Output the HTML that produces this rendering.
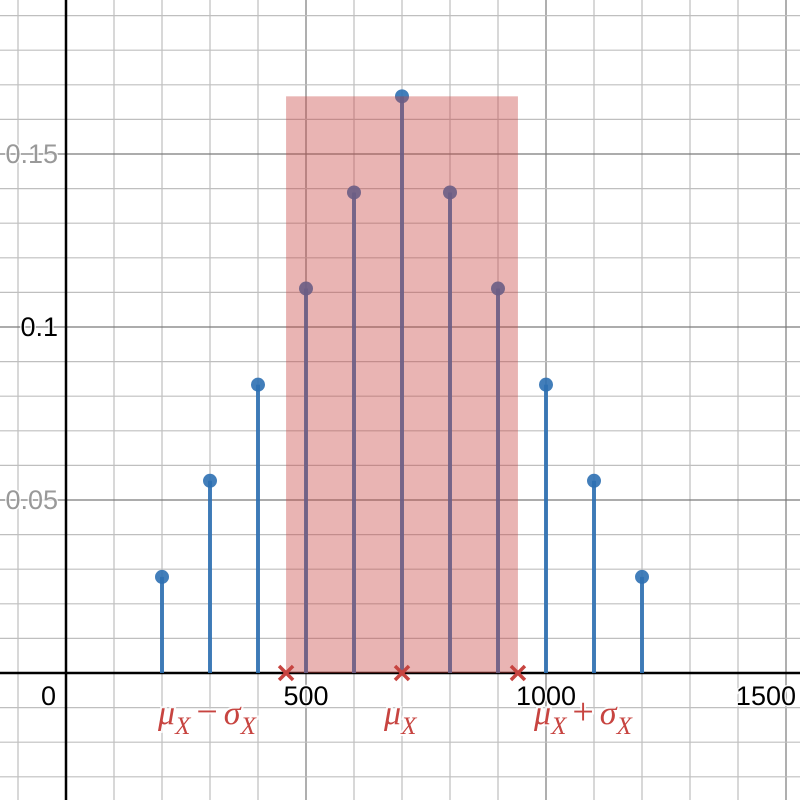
<!DOCTYPE html>
<html><head><meta charset="utf-8"><style>
html,body{margin:0;padding:0;background:#fff}
svg{display:block}
</style></head><body>
<svg id="chart" width="800" height="800" xmlns="http://www.w3.org/2000/svg" font-family="Liberation Sans, sans-serif"></svg>
<script>
const categories = [200,300,400,500,600,700,800,900,1000,1100,1200];
const probabilities = [1/36,2/36,3/36,4/36,5/36,6/36,5/36,4/36,3/36,2/36,1/36];
const xTickLabels = [500,1000,1500];
const yTickLabels = [0.05,0.1,0.15];
const meanValue = 700;
const sigmaValue = 241.52;

const NS='http://www.w3.org/2000/svg';
const svg=document.getElementById('chart');
const X=v=>66+v*0.48;
const Y=v=>673-v*3460;
function el(tag,attrs,parent){const e=document.createElementNS(NS,tag);for(const k in attrs)e.setAttribute(k,attrs[k]);(parent||svg).appendChild(e);return e;}

const grid=el('g',{});


for(let v=-100;v<=1600;v+=100){const px=X(v);const major=v%500===0;el('line',{x1:px,x2:px,y1:0,y2:800,stroke:major?'#7a7a7a':'#bfbfbf','stroke-width':1.2},grid);}
for(let i=-4;i<=20;i++){const v=i*0.01;const px=Y(v);const major=i%5===0;el('line',{x1:0,x2:800,y1:px,y2:px,stroke:major?'#7a7a7a':'#bfbfbf','stroke-width':1.2},grid);}

const xa=el('line',{x1:0,x2:800,y1:Y(0),y2:Y(0),stroke:'#000','stroke-width':2.5});


const ya=el('line',{x1:X(0),x2:X(0),y1:0,y2:800,stroke:'#000','stroke-width':2.5});



categories.forEach((c,i)=>{
  const l=el('line',{x1:X(c),x2:X(c),y1:Y(0),y2:Y(probabilities[i]),stroke:'#2d70b3','stroke-width':4,'stroke-opacity':0.9});
  
  
  const p=el('circle',{cx:X(c),cy:Y(probabilities[i]),r:7,fill:'#2d70b3','fill-opacity':0.9});
  
  
});

const band=el('rect',{x:X(meanValue-sigmaValue),y:Y(Math.max(...probabilities)),width:X(meanValue+sigmaValue)-X(meanValue-sigmaValue),height:Y(0)-Y(Math.max(...probabilities)),fill:'#c74440','fill-opacity':0.4});



[meanValue-sigmaValue,meanValue,meanValue+sigmaValue].forEach((v,i)=>{
  const g=el('g',{stroke:'#c74440','stroke-width':3.5});
  
  
  const px=X(v),py=Y(0);
  el('line',{x1:px-7,y1:py-7,x2:px+7,y2:py+7},g);
  el('line',{x1:px-7,y1:py+7,x2:px+7,y2:py-7},g);
});

function txt(s,x,y,anchor,fill,name){const t=el('text',{x:x,y:y,'text-anchor':anchor,'font-size':27,fill:fill,stroke:'#fff','stroke-width':3,'stroke-opacity':0.8,'paint-order':'stroke'});t.textContent=s;return t;}
txt('0',X(0)-10,705,'end','#000','x-tick-0');
xTickLabels.forEach(v=>{const px=X(v);if(px+28>798)txt(String(v),796,705,'end','#000','x-tick-'+v);else txt(String(v),px,705,'middle','#000','x-tick-'+v);});
yTickLabels.forEach(v=>txt(String(v),X(0)-8,Y(v)+9,'end',Math.abs(v-0.1)<1e-9?'#000':'#999','y-tick-'+v));

function mlabel(parts,x,name){
  const t=el('text',{x:x,y:724,'font-family':'Liberation Serif, serif','font-style':'italic','font-size':34,fill:'#c74440',stroke:'#fff','stroke-width':4,'stroke-opacity':0.8,'paint-order':'stroke'});
  
  
  parts.forEach(p=>{
    const s=el('tspan',p.sub?{'font-size':25,dy:10}:{dy:p.reset?-10:0},t);
    if(p.normal){s.setAttribute('font-style','normal');s.setAttribute('font-size','38');s.setAttribute('dx','6');}
    if(p.after){s.setAttribute('dx','6');}
    s.textContent=p.t;
  });
}
mlabel([{t:'μ'},{t:'X',sub:1},{t:'−',reset:1,normal:1},{t:'σ',after:1},{t:'X',sub:1}],158,'label-mu-minus-sigma');
mlabel([{t:'μ'},{t:'X',sub:1}],384,'label-mu');
mlabel([{t:'μ'},{t:'X',sub:1},{t:'+',reset:1,normal:1},{t:'σ',after:1},{t:'X',sub:1}],534,'label-mu-plus-sigma');
</script>
</body></html>
